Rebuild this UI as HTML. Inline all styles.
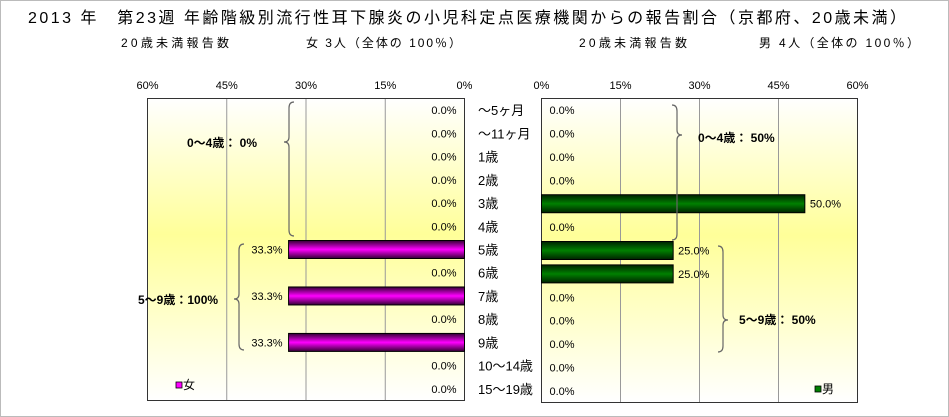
<!DOCTYPE html>
<html><head><meta charset="utf-8">
<style>
html,body{margin:0;padding:0;background:#fff}
#wrap{position:relative;width:947px;height:415px;border:1px solid #bbb;overflow:hidden;font-family:"Liberation Sans","Noto Sans CJK JP",sans-serif}
svg text{font-family:"Liberation Sans","Noto Sans CJK JP",sans-serif}
</style></head>
<body>
<div id="wrap">
<svg id="chart" width="947" height="415">
<defs>
<linearGradient id="bg" x1="0" y1="0" x2="0" y2="1">
<stop offset="0" stop-color="#ffffff"/><stop offset="0.45" stop-color="#ffff99"/><stop offset="1" stop-color="#ffffff"/>
</linearGradient>
<linearGradient id="gm" x1="0" y1="0" x2="0" y2="1">
<stop offset="0" stop-color="#330033"/><stop offset="0.5" stop-color="#ff00ff"/><stop offset="1" stop-color="#330033"/>
</linearGradient>
<linearGradient id="gg" x1="0" y1="0" x2="0" y2="1">
<stop offset="0" stop-color="#002200"/><stop offset="0.5" stop-color="#008000"/><stop offset="1" stop-color="#002200"/>
</linearGradient>
</defs>
<text x="27" y="22" font-size="16" fill="#000" textLength="878" lengthAdjust="spacing">2013 年　第23週 年齢階級別流行性耳下腺炎の小児科定点医療機関からの報告割合（京都府、20歳未満）</text>
<text x="120" y="46" font-size="12" textLength="108" lengthAdjust="spacing">20歳未満報告数</text>
<text x="305" y="46" font-size="12" textLength="155" lengthAdjust="spacing">女 3人（全体の 100％）</text>
<text x="578" y="46" font-size="12" textLength="108" lengthAdjust="spacing">20歳未満報告数</text>
<text x="758" y="46" font-size="12" textLength="160" lengthAdjust="spacing">男 4人（全体の 100％）</text>
<g id="g"></g>
</svg>
</div>
<script>
const categories=["～5ヶ月","～11ヶ月","1歳","2歳","3歳","4歳","5歳","6歳","7歳","8歳","9歳","10～14歳","15～19歳"];
const femaleValues=[0,0,0,0,0,0,33.3,0,33.3,0,33.3,0,0];
const maleValues=[0,0,0,0,50,0,25,25,0,0,0,0,0];
const tickValues=[0,15,30,45,60];
const NS="http://www.w3.org/2000/svg";
const g=document.getElementById('g');
function mk(t,a,txt){const e=document.createElementNS(NS,t);for(const k in a)e.setAttribute(k,a[k]);if(txt!==undefined)e.textContent=txt;g.appendChild(e);return e;}
const L={x0:146.5,x1:463.5,y0:97.5,y1:399.5};
const R={x0:540.5,x1:856.5,y0:97.5,y1:401.5};
const maxV=60;
function lx(v){return L.x1-(v/maxV)*(L.x1-L.x0);}
function rx(v){return R.x0+(v/maxV)*(R.x1-R.x0);}
function ly(i){return L.y0+(i+0.5)*(L.y1-L.y0)/categories.length;}
function ry(i){return R.y0+(i+0.5)*(R.y1-R.y0)/categories.length;}
let e=mk('rect',{x:L.x0,y:L.y0,width:L.x1-L.x0,height:L.y1-L.y0,fill:'url(#bg)',stroke:'none'});

e=mk('rect',{x:R.x0,y:R.y0,width:R.x1-R.x0,height:R.y1-R.y0,fill:'url(#bg)',stroke:'none'});

tickValues.forEach(t=>{
 if(t>0&&t<maxV){
  e=mk('line',{x1:lx(t),x2:lx(t),y1:L.y0,y2:L.y1,stroke:'#999'});
  
  e=mk('line',{x1:rx(t),x2:rx(t),y1:R.y0,y2:R.y1,stroke:'#999'});
  
 }
 e=mk('text',{x:lx(t),y:88,'font-size':11,'text-anchor':'middle'},t+'%');
 
 e=mk('text',{x:rx(t),y:88,'font-size':11,'text-anchor':'middle'},t+'%');
 
});
e=mk('rect',{x:L.x0,y:L.y0,width:L.x1-L.x0,height:L.y1-L.y0,fill:'none',stroke:'#333'});

e=mk('rect',{x:R.x0,y:R.y0,width:R.x1-R.x0,height:R.y1-R.y0,fill:'none',stroke:'#333'});

const bh=18;
categories.forEach((c,i)=>{
 const fv=femaleValues[i],mv=maleValues[i];
 if(fv>0){
  e=mk('rect',{x:lx(fv),y:ly(i)-bh/2,width:lx(0)-lx(fv),height:bh,fill:'url(#gm)',stroke:'#000'});
  
 }
 e=mk('text',{x:lx(fv)-(fv>0?6:8),y:ly(i)+4,'font-size':11,'text-anchor':'end'},fv.toFixed(1)+'%');
 
 if(mv>0){
  e=mk('rect',{x:rx(0),y:ry(i)-bh/2,width:rx(mv)-rx(0),height:bh,fill:'url(#gg)',stroke:'#000'});
  
  e=mk('text',{x:rx(mv)+5,y:ry(i)+4,'font-size':11},mv.toFixed(1)+'%');
 } else {
  e=mk('text',{x:rx(0)+8,y:ry(i)+4,'font-size':11},mv.toFixed(1)+'%');
 }
 
 e=mk('text',{x:477,y:ly(i)+5,'font-size':13},c);
 
});
function brace(x,ya,yb,ym,dir,name){
 const d=dir*5;
 const p=`M${x+d},${ya} Q${x},${ya} ${x},${ya+6} L${x},${ym-5} Q${x},${ym} ${x-d},${ym} Q${x},${ym} ${x},${ym+5} L${x},${yb-6} Q${x},${yb} ${x+d},${yb}`;
 const b=mk('path',{d:p,fill:'none',stroke:'#666','stroke-width':1.2});
 
}
brace(288,101,235,141,1,'female-0-4-brace');
brace(238,243,349,298,1,'female-5-9-brace');
brace(676,104,239,134,-1,'male-0-4-brace');
brace(722,245,351,319,-1,'male-5-9-brace');
e=mk('text',{x:186,y:146,'font-size':12,'font-weight':'bold'},'0～4歳： 0%');

e=mk('text',{x:137,y:303,'font-size':12,'font-weight':'bold'},'5～9歳：100%');

e=mk('text',{x:697,y:141,'font-size':12,'font-weight':'bold'},'0～4歳： 50%');

e=mk('text',{x:738,y:323,'font-size':12,'font-weight':'bold'},'5～9歳： 50%');

e=mk('rect',{x:175,y:381,width:6,height:6,fill:'#ff00ff',stroke:'#000','stroke-width':0.8});

e=mk('text',{x:182,y:388,'font-size':12},'女');

e=mk('rect',{x:814,y:385,width:6,height:6,fill:'#008000',stroke:'#000','stroke-width':0.8});

e=mk('text',{x:821,y:392,'font-size':12},'男');

</script>
</body></html>
